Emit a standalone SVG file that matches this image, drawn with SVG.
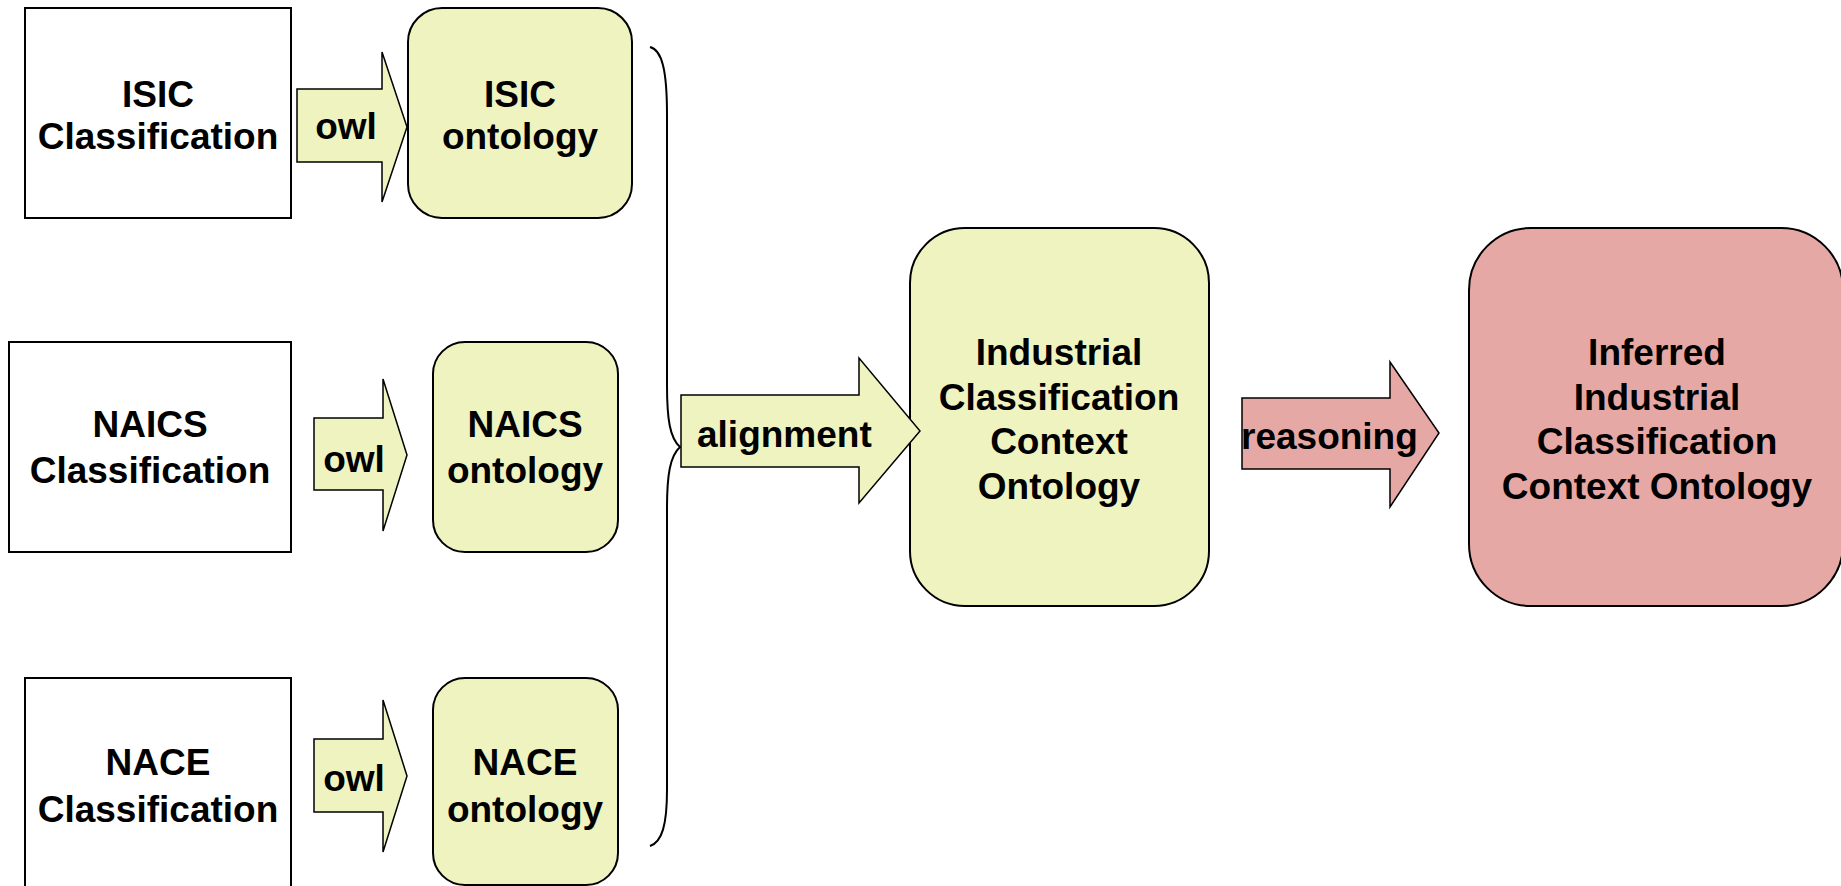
<svg xmlns="http://www.w3.org/2000/svg" width="1841" height="886" viewBox="0 0 1841 886">
  <style>
    .src { fill: #ffffff; stroke: #000000; stroke-width: 2; }
    .onto { fill: #eef3c0; stroke: #000000; stroke-width: 2; }
    .inferred { fill: #e6a8a4; stroke: #000000; stroke-width: 2; }
    .arrow-y { fill: #eef3c0; stroke: #000000; stroke-width: 1.5; stroke-linejoin: miter; }
    .arrow-r { fill: #e6a8a4; stroke: #000000; stroke-width: 1.5; stroke-linejoin: miter; }
    .brace { fill: none; stroke: #000000; stroke-width: 2; }
    text { font-family: "Liberation Sans", Arial, sans-serif; font-weight: bold; font-size: 37px; fill: #000000; }
    .c { text-anchor: middle; }
  </style>
  <rect width="1841" height="886" fill="#ffffff"/>

  <!-- Source classifications -->
  <g id="isic-classification">
    <rect class="src" x="25" y="8" width="266" height="210"/>
    <text class="c" x="158" y="107">ISIC</text>
    <text class="c" x="158" y="149">Classification</text>
  </g>
  <g id="naics-classification">
    <rect class="src" x="9" y="342" width="282" height="210"/>
    <text class="c" x="150" y="437">NAICS</text>
    <text class="c" x="150" y="483">Classification</text>
  </g>
  <g id="nace-classification">
    <rect class="src" x="25" y="678" width="266" height="230"/>
    <text class="c" x="158" y="775">NACE</text>
    <text class="c" x="158" y="822">Classification</text>
  </g>

  <!-- Ontologies -->
  <g id="isic-ontology">
    <rect class="onto" x="408" y="8" width="224" height="210" rx="34" ry="34"/>
    <text class="c" x="520" y="107">ISIC</text>
    <text class="c" x="520" y="149">ontology</text>
  </g>
  <g id="naics-ontology">
    <rect class="onto" x="433" y="342" width="185" height="210" rx="32" ry="32"/>
    <text class="c" x="525" y="437">NAICS</text>
    <text class="c" x="525" y="483">ontology</text>
  </g>
  <g id="nace-ontology">
    <rect class="onto" x="433" y="678" width="185" height="207" rx="32" ry="32"/>
    <text class="c" x="525" y="775">NACE</text>
    <text class="c" x="525" y="822">ontology</text>
  </g>

  <g id="context-ontology">
    <rect class="onto" x="910" y="228" width="299" height="378" rx="55" ry="55"/>
    <text class="c" x="1059" y="365">Industrial</text>
    <text class="c" x="1059" y="410">Classification</text>
    <text class="c" x="1059" y="454">Context</text>
    <text class="c" x="1059" y="499">Ontology</text>
  </g>

  <g id="inferred-ontology">
    <rect class="inferred" x="1469" y="228" width="374" height="378" rx="62" ry="62"/>
    <text class="c" x="1657" y="365">Inferred</text>
    <text class="c" x="1657" y="410">Industrial</text>
    <text class="c" x="1657" y="454">Classification</text>
    <text class="c" x="1657" y="499">Context Ontology</text>
  </g>

  <!-- Connectors: block arrows and the grouping brace -->
  <g id="connectors">
    <g id="owl-isic">
      <polygon class="arrow-y" points="297,89 382,89 382,52 407,127 382,202 382,162 297,162"/>
      <text class="c" x="346" y="139">owl</text>
    </g>
    <g id="owl-naics">
      <polygon class="arrow-y" points="314,418 383,418 383,379 407,455 383,531 383,490 314,490"/>
      <text class="c" x="354" y="472">owl</text>
    </g>
    <g id="owl-nace">
      <polygon class="arrow-y" points="314,739 383,739 383,700 407,776 383,852 383,812 314,812"/>
      <text class="c" x="354" y="791">owl</text>
    </g>
    <path id="brace" class="brace" d="M 650 47 C 662 50 667 70 667 115 L 667 385 C 667 420 670 438 680 447 C 670 456 667 475 667 508 L 667 790 C 667 825 662 842 650 846"/>
    <g id="alignment">
      <polygon class="arrow-y" points="681,395 859,395 859,358 920,431 859,503 859,467 681,467"/>
      <text x="697" y="447">alignment</text>
    </g>
    <g id="reasoning">
      <polygon class="arrow-r" points="1242,398 1390,398 1390,362 1439,433 1390,507 1390,469 1242,469"/>
      <text x="1241" y="449">reasoning</text>
    </g>
  </g>
</svg>
